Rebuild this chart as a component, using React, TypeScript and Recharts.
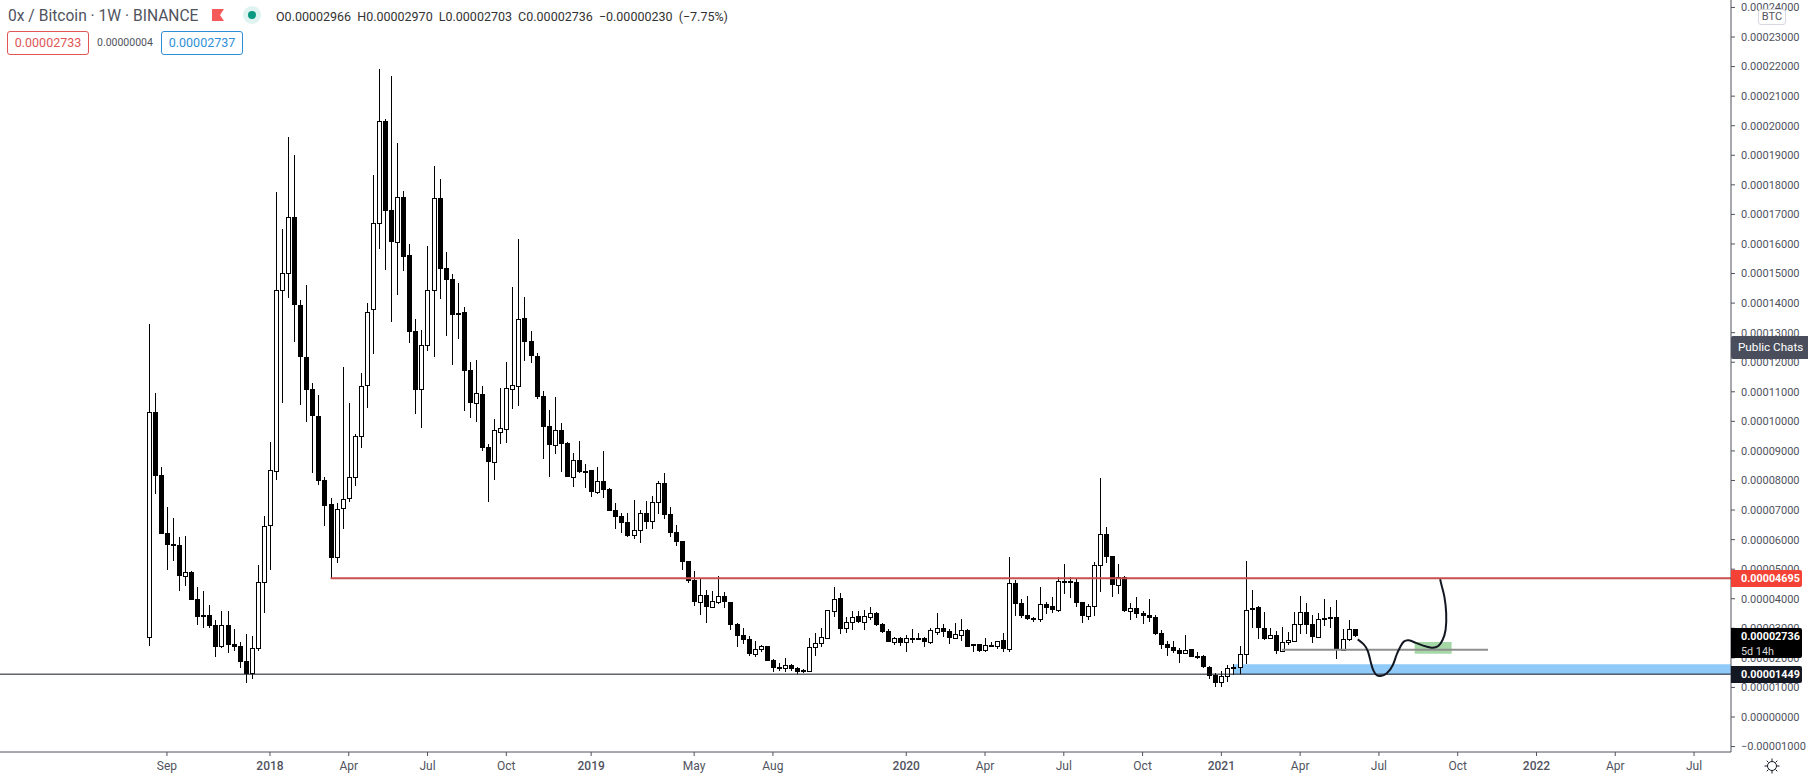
import React from 'react';
import {
  ComposedChart,
  Bar,
  Line,
  XAxis,
  YAxis,
  ReferenceLine,
  ReferenceArea
} from 'recharts';

// prices are in units of 0.00000001 BTC, one entry per week from Aug 2017
const opens = [
  2695, 10315, 8170, 6220, 5850, 5820, 4780, 4900, 3990, 3450,
  3440, 3110, 2400, 3110, 2470, 2400, 1890, 1480, 2320, 4555,
  6480, 8310, 14430, 15025, 16900, 13950, 12165, 11080, 10180, 8000,
  7190, 5400, 7060, 7395, 8105, 9495, 11220, 13790, 16695, 20145,
  17135, 16075, 17585, 15615, 13045, 11080, 12580, 14430, 17540, 15175,
  14800, 13650, 13685, 11725, 10610, 10925, 9130, 8635, 9650, 9750,
  11105, 11205, 13485, 12715, 12210, 10855, 9830, 9210, 9705, 9265,
  8125, 8680, 8320, 8355, 7620, 7980, 7700, 6990, 6800, 6595,
  6145, 6315, 6900, 6620, 7280, 7915, 6855, 6245, 5950, 5275,
  4625, 3905, 4115, 3735, 3900, 4080, 3890, 3145, 2775, 2630,
  2140, 2290, 2400, 1930, 1690, 1665, 1750, 1645, 1580, 1565,
  2355, 2495, 2670, 3575, 4015, 3000, 3205, 3405, 3225, 3390,
  3515, 3145, 2900, 2545, 2660, 2525, 2660, 2665, 2670, 2545,
  2885, 3000, 2910, 2680, 2785, 2940, 2460, 2460, 2255, 2425,
  2400, 2595, 2315, 4520, 3845, 3440, 3350, 3305, 3820, 3745,
  3630, 4610, 4600, 4565, 3880, 3425, 3745, 5130, 6180, 5445,
  4475, 4735, 3595, 3685, 3515, 3450, 3380, 2840, 2470, 2365,
  2265, 2155, 2290, 2065, 2065, 1690, 1430, 1175, 1375, 1680,
  1680, 2120, 3675, 3720, 3000, 2660, 2775, 2240, 2525, 2580,
  3135, 3550, 3145, 2715, 3340, 3370, 3380, 2275, 2630, 2966
];

const highs = [
  13290, 10950, 8445, 7090, 6730, 6080, 6120, 4940, 4390, 4250,
  3780, 3280, 3575, 3575, 2970, 2530, 2810, 2740, 5140, 6800,
  9290, 17745, 16500, 19605, 19000, 14100, 14600, 11285, 10880, 8130,
  7400, 7250, 11830, 10610, 9570, 11625, 13990, 18320, 21915, 20225,
  21680, 19405, 17780, 15985, 13450, 13090, 15930, 18625, 18185, 15725,
  14980, 14670, 13855, 11995, 12065, 11185, 9235, 10080, 11125, 11995,
  14530, 16155, 14195, 13055, 12300, 11025, 10385, 10820, 9935, 9290,
  8940, 9335, 8545, 8355, 8455, 8995, 7745, 7235, 6910, 6900,
  7340, 7000, 7295, 7475, 7990, 8250, 7100, 6495, 5950, 5275,
  4940, 4665, 4295, 4260, 4770, 4230, 3890, 3180, 3000, 2730,
  2570, 2435, 2400, 1950, 1835, 2005, 1790, 1680, 1625, 2670,
  2830, 3000, 3610, 4395, 4195, 3370, 3585, 3585, 3610, 3720,
  3540, 3170, 2965, 2695, 2705, 2785, 2975, 2830, 2715, 3000,
  3505, 3145, 2975, 3170, 3305, 2965, 2460, 2460, 2660, 2525,
  2580, 2830, 5400, 4625, 3980, 4090, 3390, 4395, 3890, 4060,
  4735, 5175, 4725, 4655, 3900, 3810, 5230, 8075, 6425, 5445,
  5175, 4760, 3855, 4060, 3585, 3990, 3450, 2940, 2570, 2570,
  2325, 2775, 2290, 2200, 2085, 1715, 1480, 1555, 1760, 1790,
  2390, 5265, 4295, 3765, 3550, 3000, 2910, 3035, 2865, 3550,
  4090, 3855, 3450, 3505, 3990, 3730, 3955, 2975, 3280, 2970
];

const lows = [
  2410, 7540, 6200, 4970, 5290, 4270, 4440, 3960, 3110, 3020,
  3000, 2040, 2320, 2175, 2240, 1670, 1160, 1295, 2240, 3530,
  4970, 8015, 10610, 14180, 12690, 10550, 9990, 8260, 7850, 6470,
  4700, 5220, 6360, 7280, 7810, 9110, 10460, 12280, 15830, 15120,
  13370, 14270, 15095, 12660, 10260, 9785, 12390, 12185, 14145, 12895,
  11915, 12785, 10360, 10110, 9985, 9005, 7270, 8015, 9235, 9275,
  10415, 10520, 12040, 11980, 10745, 8735, 8125, 8905, 8285, 8125,
  7780, 8240, 7745, 7450, 7540, 7415, 6975, 6360, 6235, 6100,
  6030, 5895, 6360, 6360, 6865, 6695, 6100, 5795, 4970, 4540,
  3765, 3460, 3190, 3735, 3830, 3695, 2950, 2380, 2460, 2065,
  2020, 2210, 1905, 1510, 1555, 1520, 1565, 1455, 1500, 1565,
  2065, 2380, 2650, 3380, 2805, 2850, 2940, 3170, 2940, 3280,
  3080, 2840, 2545, 2435, 2400, 2210, 2515, 2605, 2380, 2470,
  2775, 2715, 2470, 2680, 2580, 2380, 2210, 2210, 2190, 2380,
  2310, 2210, 2210, 3425, 3340, 3280, 3225, 3225, 3495, 3525,
  3560, 4160, 4035, 3720, 3190, 3280, 3425, 4240, 5220, 4070,
  4160, 3560, 3280, 3340, 3145, 3225, 2775, 2300, 2075, 2175,
  1835, 2155, 2040, 1950, 1645, 1295, 1025, 1025, 1195, 1420,
  1455, 1790, 3000, 2640, 2615, 2660, 2140, 2210, 2435, 2580,
  2815, 2815, 2515, 2680, 3080, 3020, 1970, 2275, 2580, 2703
];

const closes = [
  10315, 8160, 6200, 5830, 5790, 4780, 4890, 3960, 3390, 3390,
  3080, 2380, 3100, 2435, 2380, 1870, 1450, 2320, 4555, 6450,
  8340, 14430, 15005, 16900, 13945, 12165, 11070, 10190, 7990, 7150,
  5390, 7045, 7380, 8105, 9495, 11205, 13705, 16695, 20145, 17125,
  16075, 17575, 15565, 13030, 11070, 12590, 14430, 17540, 15170, 14790,
  13605, 13605, 11710, 10630, 10945, 9100, 8635, 9695, 9765, 11115,
  11220, 13450, 12695, 12220, 10830, 9820, 9210, 9695, 9245, 8125,
  8680, 8295, 8285, 7620, 7970, 7685, 6975, 6765, 6570, 6130,
  6315, 6890, 6605, 7260, 7905, 6830, 6235, 5930, 5250, 4610,
  3900, 4110, 3730, 3915, 4080, 3880, 3120, 2750, 2615, 2120,
  2290, 2400, 1905, 1665, 1665, 1750, 1635, 1530, 1530, 2355,
  2495, 2695, 3610, 4000, 2985, 3205, 3390, 3215, 3405, 3505,
  3110, 2875, 2545, 2660, 2505, 2660, 2665, 2660, 2535, 2930,
  3000, 2885, 2680, 2795, 2930, 2380, 2425, 2240, 2425, 2390,
  2580, 2310, 4520, 3830, 3425, 3315, 3280, 3810, 3695, 3630,
  4590, 4575, 4530, 3865, 3425, 3745, 5130, 6180, 5410, 4475,
  4725, 3585, 3685, 3495, 3425, 3360, 2805, 2445, 2335, 2230,
  2140, 2275, 2040, 2055, 1680, 1395, 1160, 1375, 1645, 1635,
  2120, 3610, 3630, 2995, 2650, 2765, 2240, 2525, 2595, 3135,
  3540, 3120, 2705, 3305, 3305, 3325, 2275, 2630, 2966, 2736
];

const tickWeeks = [3, 20, 33, 46, 59, 73, 90, 103, 125, 138, 151, 164, 177, 190, 203, 216, 229, 242, 255];
const tickLabels = ['Sep', '2018', 'Apr', 'Jul', 'Oct', '2019', 'May', 'Aug', '2020', 'Apr', 'Jul', 'Oct', '2021', 'Apr', 'Jul', 'Oct', '2022', 'Apr', 'Jul'];
const priceTicks = [-1000, 0, 1000, 2000, 3000, 4000, 5000, 6000, 7000, 8000, 9000, 10000, 11000, 12000, 13000, 14000, 15000, 16000, 17000, 18000, 19000, 20000, 21000, 22000, 23000, 24000];

const redLevel = 4695;
const blackLevel = 1449;
const grayLevel = 2276;

// the hand drawn projection: week, price
const sketchWeeks = [199.5, 200.5, 201.2, 201.7, 202.1, 202.6, 203.3, 204.3, 205.3, 205.9, 206.6, 207.1, 207.9, 209, 210.3, 211.7, 212.8, 213.5, 214, 214.1, 213.8, 213.4, 213.1];
const sketchPrices = [2627, 2458, 2210, 1815, 1567, 1421, 1387, 1477, 1759, 2097, 2401, 2548, 2593, 2514, 2413, 2345, 2401, 2604, 2942, 3506, 4070, 4408, 4656];

const candles = opens.map((open, i) => ({
  i,
  open,
  high: highs[i],
  low: lows[i],
  close: closes[i]
}));
const sketch = sketchWeeks.map((i, n) => ({ i, price: sketchPrices[n] }));

const Candle = (props: any) => {
  const { x, y, width, height, payload } = props;
  const { open, high, low, close } = payload;
  const toY = (v: number) => y + ((high - v) / (high - low)) * height;
  const cx = Math.round(x + width / 2);
  const top = Math.round(toY(Math.max(open, close)));
  const bottom = Math.round(toY(Math.min(open, close)));
  const up = close >= open;
  return (
    <g shapeRendering="crispEdges">
      <line x1={cx + 0.5} x2={cx + 0.5} y1={y} y2={y + height} stroke="#000" />
      {up ? (
        <rect x={cx - 1.5} y={top + 0.5} width={4} height={Math.max(bottom - top, 1)} fill="#fff" stroke="#000" />
      ) : (
        <rect x={cx - 2} y={top} width={5} height={Math.max(bottom - top, 2)} fill="#000" />
      )}
    </g>
  );
};

const TimeTick = (props: any) => {
  const { x, y, index } = props;
  const label = tickLabels[index];
  const isYear = label.length === 4;
  return (
    <text
      x={x}
      y={y + 12}
      textAnchor="middle"
      fontFamily="Roboto, sans-serif"
      fontSize={12}
      fontWeight={isYear ? 500 : 400}
      fill="#50535e"
    >
      {label}
    </text>
  );
};

const formatPrice = (v: number) => (v < 0 ? '\u2212' : '') + (Math.abs(v) / 1e8).toFixed(8);

const overlayText: React.CSSProperties = {
  position: 'absolute',
  fontFamily: 'Roboto, sans-serif',
  whiteSpace: 'nowrap'
};

const Tag = ({ top, height, color, lines }: { top: number; height: number; color: string; lines: string[] }) => (
  <div
    style={{
      ...overlayText,
      left: 1731,
      top,
      width: 71,
      height,
      background: color,
      borderRadius: '0 2px 2px 0',
      color: '#fff',
      fontSize: 10.8,
      fontWeight: 700,
      lineHeight: '16px',
      paddingLeft: 10,
      boxSizing: 'border-box',
      paddingTop: 1
    }}
  >
    {lines.map((l, n) => (
      <div key={l} style={n > 0 ? { fontWeight: 400, color: '#d8d8d8', lineHeight: '13px' } : undefined}>
        {l}
      </div>
    ))}
  </div>
);

const App: React.FC = () => {
  return (
    <div style={{ position: 'absolute', left: 0, top: 0, width: 1808, height: 777, background: '#fff', overflow: 'hidden' }}>
      <ComposedChart width={1808} height={777} data={candles} margin={{ top: 0, right: 0, bottom: 0, left: 0 }}>
        <XAxis
          dataKey="i"
          type="number"
          domain={[-24.55, 261.1]}
          ticks={tickWeeks}
          interval={0}
          height={25}
          allowDataOverflow
          stroke="#50535e"
          tickSize={4}
          tick={<TimeTick />}
        />
        <YAxis
          orientation="right"
          width={77}
          domain={[-1184, 24252]}
          ticks={priceTicks}
          interval={0}
          allowDataOverflow
          stroke="#50535e"
          tickSize={4}
          tickMargin={6}
          tickFormatter={formatPrice}
          tick={{ fill: '#50535e', fontSize: 11, fontFamily: 'Roboto, sans-serif' }}
        />
        <ReferenceArea x1={179} x2={261.1} y1={blackLevel} y2={1782} fill="#90caf9" fillOpacity={1} stroke="none" />
        <ReferenceArea x1={208.9} x2={215} y1={2141} y2={2536} fill="#4caf50" fillOpacity={0.5} stroke="none" />
        <ReferenceLine y={blackLevel} stroke="#131722" strokeWidth={1} />
        <ReferenceLine segment={[{ x: 187, y: grayLevel }, { x: 221, y: grayLevel }]} stroke="#8f8f8f" strokeWidth={2} />
        <ReferenceLine segment={[{ x: 30, y: redLevel }, { x: 261.1, y: redLevel }]} stroke="#c94f4f" strokeWidth={2} />
        <Bar dataKey={(d: any) => [d.low, d.high]} barSize={5} shape={<Candle />} isAnimationActive={false} />
        <Line
          data={sketch}
          dataKey="price"
          type="natural"
          stroke="#131722"
          strokeWidth={2}
          dot={false}
          activeDot={false}
          isAnimationActive={false}
        />
      </ComposedChart>

      <div style={{ ...overlayText, left: 8, top: 7, fontSize: 15.6, color: '#50535e' }}>0x / Bitcoin · 1W · BINANCE</div>
      <svg style={{ position: 'absolute', left: 212, top: 9 }} width={13} height={13}>
        <path d="M0 0 H12 L8 6 L12 12 H0 Z" fill="#f55a5a" />
      </svg>
      <div style={{ position: 'absolute', left: 243, top: 6, width: 18, height: 18, borderRadius: 9, background: '#dff3f0' }}>
        <div style={{ position: 'absolute', left: 5, top: 5, width: 8, height: 8, borderRadius: 4, background: '#089981' }} />
      </div>
      <div style={{ ...overlayText, left: 276, top: 9, fontSize: 12.5, color: '#333', wordSpacing: 3 }}>
        O0.00002966 H0.00002970 L0.00002703 C0.00002736 −0.00000230 (−7.75%)
      </div>
      <div style={{ ...overlayText, left: 7, top: 31, width: 82, height: 24, border: '1px solid #e05555', borderRadius: 3, boxSizing: 'border-box', color: '#e05555', fontSize: 12.5, lineHeight: '22px', textAlign: 'center' }}>
        0.00002733
      </div>
      <div style={{ ...overlayText, left: 97, top: 36, fontSize: 10.5, color: '#50535e' }}>0.00000004</div>
      <div style={{ ...overlayText, left: 161, top: 31, width: 82, height: 24, border: '1px solid #2e8fd6', borderRadius: 3, boxSizing: 'border-box', color: '#2e8fd6', fontSize: 12.5, lineHeight: '22px', textAlign: 'center' }}>
        0.00002737
      </div>

      <div style={{ ...overlayText, left: 1758, top: 9, width: 28, height: 16, border: '1px solid #d6d8e0', borderRadius: 3, background: '#fff', boxSizing: 'border-box', color: '#50535e', fontSize: 11, lineHeight: '14px', textAlign: 'center' }}>
        BTC
      </div>
      <div style={{ ...overlayText, left: 1731, top: 336, width: 77, height: 23, background: '#4a4e5c', borderRadius: '2px 0 0 2px', color: '#fff', fontSize: 11.7, fontWeight: 400, lineHeight: '23px', paddingLeft: 7, boxSizing: 'border-box' }}>
        Public Chats
      </div>

      <Tag top={570} height={17} color="#f44336" lines={['0.00004695']} />
      <Tag top={628} height={30} color="#000" lines={['0.00002736', '5d 14h']} />
      <Tag top={666} height={17} color="#131722" lines={['0.00001449']} />

      <svg style={{ position: 'absolute', left: 1764, top: 758 }} width={16} height={16} fill="none" stroke="#131722">
        <circle cx={8} cy={8} r={4.5} />
        <path d="M8 0.5 V3 M8 13 V15.5 M0.5 8 H3 M13 8 H15.5 M2.7 2.7 L4.5 4.5 M11.5 11.5 L13.3 13.3 M2.7 13.3 L4.5 11.5 M11.5 4.5 L13.3 2.7" />
      </svg>
    </div>
  );
};

export default App;
